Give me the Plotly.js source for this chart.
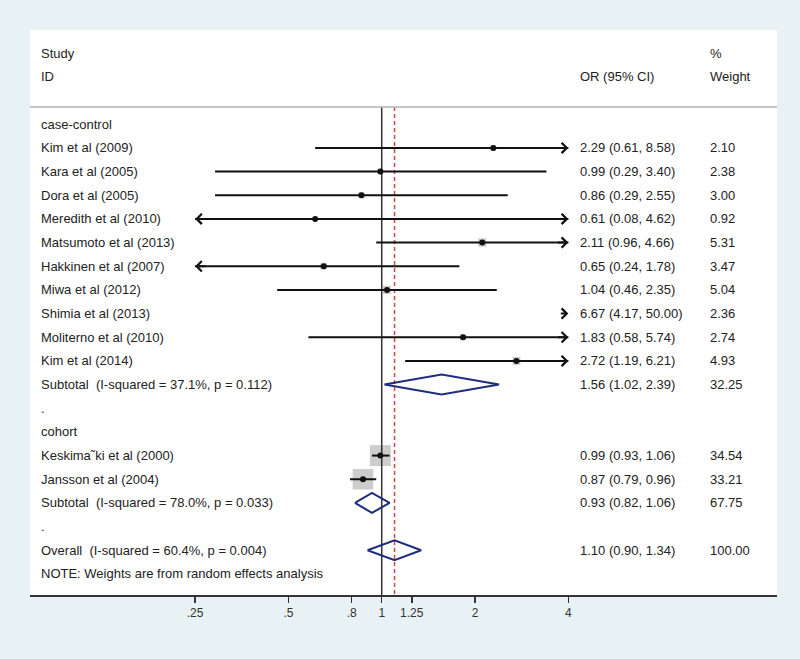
<!DOCTYPE html>
<html>
<head>
<meta charset="utf-8">
<script src="https://cdn.plot.ly/plotly-3.0.1.min.js"></script>
<style>
  html, body { margin: 0; padding: 0; background: #e8f1f3; }
  #forest { width: 800px; height: 659px; }
</style>
</head>
<body>
<div id="forest"></div>
<script>
// study level data
const studies = ['Kim et al (2009)', 'Kara et al (2005)', 'Dora et al (2005)', 'Meredith et al (2010)',
  'Matsumoto et al (2013)', 'Hakkinen et al (2007)', 'Miwa et al (2012)', 'Shimia et al (2013)',
  'Moliterno et al (2010)', 'Kim et al (2014)', 'Keskima\u02DCki et al (2000)', 'Jansson et al (2004)'];
const groupOf = ['case-control', 'case-control', 'case-control', 'case-control', 'case-control',
  'case-control', 'case-control', 'case-control', 'case-control', 'case-control', 'cohort', 'cohort'];
const orVal = [2.29, 0.99, 0.86, 0.61, 2.11, 0.65, 1.04, 6.67, 1.83, 2.72, 0.99, 0.87];
const ciLow = [0.61, 0.29, 0.29, 0.08, 0.96, 0.24, 0.46, 4.17, 0.58, 1.19, 0.93, 0.79];
const ciHigh = [8.58, 3.40, 2.55, 4.62, 4.66, 1.78, 2.35, 50.00, 5.74, 6.21, 1.06, 0.96];
const weights = [2.10, 2.38, 3.00, 0.92, 5.31, 3.47, 5.04, 2.36, 2.74, 4.93, 34.54, 33.21];

// pooled estimates
const groups = ['case-control', 'cohort'];
const subLabel = ['Subtotal  (I-squared = 37.1%, p = 0.112)', 'Subtotal  (I-squared = 78.0%, p = 0.033)'];
const subOr = [1.56, 0.93];
const subLow = [1.02, 0.82];
const subHigh = [2.39, 1.06];
const subWeight = [32.25, 67.75];
const overallLabel = 'Overall  (I-squared = 60.4%, p = 0.004)';
const overallOr = 1.10, overallLow = 0.90, overallHigh = 1.34, overallWeight = 100.00;

const tickVals = [0.25, 0.5, 0.8, 1, 1.25, 2, 4];
const tickText = ['.25', '.5', '.8', '1', '1.25', '2', '4'];
const clipLo = 0.25, clipHi = 4;

const fmt = (v) => v.toFixed(2);
const FONT = 'Liberation Sans, Arial, sans-serif';

// build the rows, top to bottom
const rows = [];
groups.forEach((g, gi) => {
  rows.push({kind: 'head', label: g});
  studies.forEach((s, i) => {
    if (groupOf[i] === g) rows.push({kind: 'study', i: i});
  });
  rows.push({kind: 'sub', gi: gi});
  rows.push({kind: 'dot'});
});
rows.push({kind: 'overall'});
rows.push({kind: 'note'});

const traces = [];
const annotations = [];
const textAnn = (x, y, text) => ({
  xref: 'paper', yref: 'y', x: x, y: y, text: text, showarrow: false,
  xanchor: 'left', yanchor: 'middle', font: {family: FONT, size: 13, color: '#222'}
});
const colStudy = 0.0127, colOr = 0.7336, colW = 0.9076;

// headers
annotations.push(textAnn(colStudy, -3, 'Study'));
annotations.push(textAnn(colStudy, -2, 'ID'));
annotations.push(textAnn(colOr, -2, 'OR (95% CI)'));
annotations.push(textAnn(colW, -3, '%'));
annotations.push(textAnn(colW, -2, 'Weight'));

// reference lines (drawn first)
const yTop = -0.73, yBottom = 19.89;
traces.push({x: [1, 1], y: [yTop, yBottom], mode: 'lines', line: {color: '#333', width: 1.5}, hoverinfo: 'skip'});
traces.push({x: [overallOr, overallOr], y: [yTop, yBottom], mode: 'lines',
  line: {color: '#d0473f', width: 1.5, dash: '4px,3px'}, hoverinfo: 'skip'});

const diamond = (lo, est, hi, y) => ({
  x: [lo, est, hi, est, lo], y: [y, y - 0.42, y, y + 0.42, y], mode: 'lines',
  line: {color: '#1f2d80', width: 2}, hoverinfo: 'skip'
});

const sqX = [], sqY = [], sqS = [], dotX = [], dotY = [];
rows.forEach((r, y) => {
  if (r.kind === 'head') annotations.push(textAnn(colStudy, y, r.label));
  if (r.kind === 'dot') annotations.push(textAnn(colStudy, y, '.'));
  if (r.kind === 'note') annotations.push(textAnn(colStudy, y, 'NOTE: Weights are from random effects analysis'));
  if (r.kind === 'study') {
    const i = r.i;
    annotations.push(textAnn(colStudy, y, studies[i]));
    annotations.push(textAnn(colOr, y, fmt(orVal[i]) + ' (' + fmt(ciLow[i]) + ', ' + fmt(ciHigh[i]) + ')'));
    annotations.push(textAnn(colW, y, fmt(weights[i])));
    // point estimates outside the plotted window are not drawn
    if (orVal[i] >= clipLo && orVal[i] <= clipHi) {
      sqX.push(orVal[i]); sqY.push(y); sqS.push(21 * Math.sqrt(weights[i] / 34.54));
      dotX.push(orVal[i]); dotY.push(y);
    }
    const a = Math.max(ciLow[i], clipLo), b = Math.min(ciHigh[i], clipHi);
    if (a < b) {
      traces.push({x: [a, b], y: [y, y], mode: 'lines', line: {color: '#111', width: 2}, hoverinfo: 'skip'});
    }
    if (ciHigh[i] > clipHi) {
      annotations.push({xref: 'x', yref: 'y', x: Math.log10(clipHi), y: y, text: '', showarrow: true,
        ax: a < b ? -12 : -9, ay: 0, arrowhead: 4, arrowsize: 1, arrowwidth: 2, arrowcolor: '#111', standoff: 0});
    }
    if (ciLow[i] < clipLo) {
      annotations.push({xref: 'x', yref: 'y', x: Math.log10(clipLo), y: y, text: '', showarrow: true,
        ax: 12, ay: 0, arrowhead: 4, arrowsize: 1, arrowwidth: 2, arrowcolor: '#111', standoff: 0});
    }
  }
  if (r.kind === 'sub') {
    const g = r.gi;
    annotations.push(textAnn(colStudy, y, subLabel[g]));
    annotations.push(textAnn(colOr, y, fmt(subOr[g]) + ' (' + fmt(subLow[g]) + ', ' + fmt(subHigh[g]) + ')'));
    annotations.push(textAnn(colW, y, fmt(subWeight[g])));
    traces.push(diamond(subLow[g], subOr[g], subHigh[g], y));
  }
  if (r.kind === 'overall') {
    annotations.push(textAnn(colStudy, y, overallLabel));
    annotations.push(textAnn(colOr, y, fmt(overallOr) + ' (' + fmt(overallLow) + ', ' + fmt(overallHigh) + ')'));
    annotations.push(textAnn(colW, y, fmt(overallWeight)));
    traces.push(diamond(overallLow, overallOr, overallHigh, y));
  }
});

// weight boxes go under the lines
traces.unshift({x: sqX, y: sqY, mode: 'markers', hoverinfo: 'skip',
  marker: {symbol: 'square', size: sqS, color: '#b8b8b8', line: {width: 0}}});
traces.push({x: dotX, y: dotY, mode: 'markers', hoverinfo: 'skip',
  marker: {symbol: 'circle', size: 6, color: '#111'}});

const layout = {
  width: 800, height: 659,
  margin: {l: 30, r: 23, t: 30, b: 64},
  paper_bgcolor: '#e8f1f3',
  plot_bgcolor: '#ffffff',
  showlegend: false,
  font: {family: FONT, size: 13, color: '#222'},
  xaxis: {
    type: 'log', range: [-1.1345, 1.275],
    tickvals: tickVals, ticktext: tickText,
    ticks: 'outside', ticklen: 6, tickwidth: 1.5, tickcolor: '#333',
    showline: true, linecolor: '#333', linewidth: 1.5,
    showgrid: false, zeroline: false,
    tickfont: {family: FONT, size: 12, color: '#333'}
  },
  yaxis: {range: [19.89, -3.98], visible: false, showgrid: false, zeroline: false},
  shapes: [{type: 'line', xref: 'paper', yref: 'y', x0: 0, x1: 1, y0: yTop, y1: yTop,
    line: {color: '#b0b0b0', width: 1.5}}],
  annotations: annotations
};

Plotly.newPlot('forest', traces, layout, {staticPlot: true});
</script>
</body>
</html>
